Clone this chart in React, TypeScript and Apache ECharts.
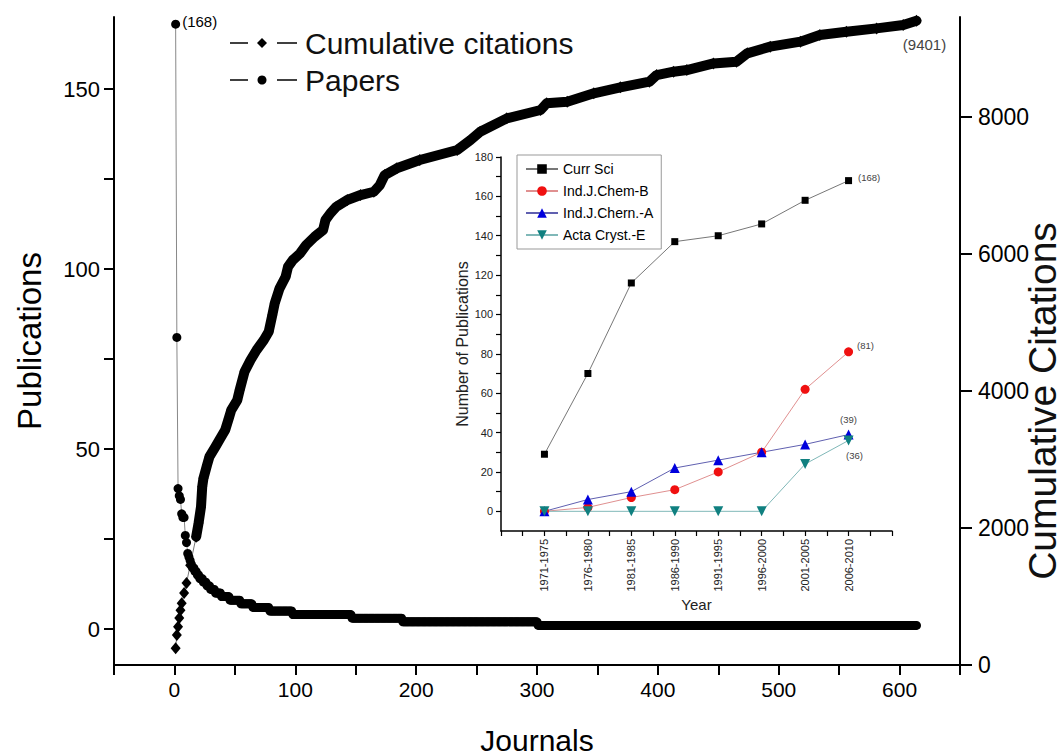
import React, { useEffect, useRef } from "react";
import * as echarts from "echarts";

// ---------- Main chart data ----------
// Papers per journal, ranked: run-length encoded (level, number of journals at that level)
const paperLevels = [168, 81, 39, 37, 36, 32, 31, 26, 24, 21, 20, 19, 18, 17, 16, 15, 14, 13, 12, 11, 10, 9, 8, 7, 6, 5, 4, 3, 2, 1];
const paperRuns = [1, 1, 1, 1, 1, 1, 2, 1, 1, 1, 1, 1, 1, 2, 2, 2, 3, 3, 3, 4, 5, 7, 9, 10, 14, 19, 49, 42, 112, 314];

// Cumulative citations (journal rank, cumulative citations)
const cumJournal = [1, 2, 3, 4, 5, 6, 8, 10, 13, 18, 20, 22, 23, 24, 27, 29, 34, 38, 42, 45, 47, 52, 54, 58, 63, 68, 74, 78, 81, 83, 87, 92, 94, 98, 104, 109, 116, 123, 125, 129, 134, 143, 154, 165, 170, 174, 184, 203, 234, 245, 253, 275, 303, 308, 325, 347, 369, 393, 399, 413, 424, 446, 465, 474, 493, 518, 534, 556, 581, 603, 614];
const cumCitations = [244, 438, 559, 684, 800, 900, 1050, 1195, 1455, 1872, 2072, 2310, 2602, 2724, 2918, 3040, 3186, 3308, 3429, 3600, 3720, 3866, 4012, 4279, 4450, 4596, 4742, 4863, 5107, 5277, 5496, 5665, 5811, 5909, 6007, 6128, 6249, 6347, 6493, 6590, 6687, 6785, 6857, 6905, 7003, 7149, 7247, 7368, 7514, 7660, 7781, 7976, 8098, 8195, 8219, 8342, 8429, 8511, 8608, 8657, 8681, 8778, 8802, 8925, 9022, 9095, 9192, 9240, 9289, 9338, 9401];

const mainXTicks = [-50, 0, 50, 100, 150, 200, 250, 300, 350, 400, 450, 500, 550, 600, 650];
const mainXLabels = [0, 100, 200, 300, 400, 500, 600];
const leftTicks = [0, 25, 50, 75, 100, 125, 150];
const leftLabels = [0, 50, 100, 150];
const rightTicks = [0, 2000, 4000, 6000, 8000];

// ---------- Inset data ----------
const periods = ["1971-1975", "1976-1980", "1981-1985", "1986-1990", "1991-1995", "1996-2000", "2001-2005", "2006-2010"];
const currSci = [29, 70, 116, 137, 140, 146, 158, 168];
const chemB = [0, 2, 7, 11, 20, 30, 62, 81];
const chemA = [0, 6, 10, 22, 26, 30, 34, 39];
const actaE = [0, 0, 0, 0, 0, 0, 24, 36];
const insetXTicks = [0, 0.5, 1, 1.5, 2, 2.5, 3, 3.5, 4, 4.5, 5, 5.5, 6, 6.5, 7, 7.5, 8, 8.5, 9];
const insetXLabels = [1, 2, 3, 4, 5, 6, 7, 8];
const insetYTicks = [0, 10, 20, 30, 40, 50, 60, 70, 80, 90, 100, 110, 120, 130, 140, 150, 160, 170, 180];
const insetYLabels = [0, 20, 40, 60, 80, 100, 120, 140, 160, 180];

const FONT = "'Liberation Sans', Arial, sans-serif";

function buildPapers() {
  const out: any[] = [];
  let j = 1;
  paperLevels.forEach((lvl, k) => {
    for (let r = 0; r < paperRuns[k]; r++) {
      out.push([j, lvl]);
      j++;
    }
  });
  return out;
}

function insetSeriesData(vals: number[], labelIdx: number | null, label?: any) {
  return vals.map((v, i) => {
    if (i === labelIdx) {
      return { value: [i + 1, v], label: { show: true, formatter: `(${v})`, ...label } };
    }
    return [i + 1, v];
  });
}

const plain = (v: number) => String(v);

export default function App() {
  const ref = useRef<HTMLDivElement>(null);
  useEffect(() => {
    document.body.style.margin = "0";
    const chart = echarts.init(ref.current!, null, { renderer: "svg" });

    const papers = buildPapers().map((d, i) =>
      i === 0
        ? { value: d, label: { show: true, formatter: `(${d[1]})`, position: "right", distance: 2, offset: [0, -3], fontSize: 15, color: "#000", fontFamily: FONT } }
        : d
    );
    const cum = cumJournal.map((j, i) => [j, cumCitations[i]]);
    const lastIdx = cum.length - 1;
    const cumLabeled = cum.map((d, i) =>
      i === lastIdx
        ? { value: d, label: { show: true, formatter: `(${d[1]})`, position: "bottom", distance: 10, offset: [8, 0], fontSize: 15, color: "#444", fontFamily: FONT } }
        : d
    );
    const dense = cum.filter((d) => d[0] >= 18);

    const axisLineMain = { onZero: false, lineStyle: { color: "#000", width: 2 } };
    const tickMain = { lineStyle: { color: "#000", width: 2 }, length: 10 };
    const insetLine = { onZero: false, lineStyle: { color: "#000", width: 1.5 } };
    const insetTick = { lineStyle: { color: "#000", width: 1.2 }, length: 5 };

    const lblSmall = { fontSize: 9.5, color: "#444", fontFamily: FONT };

    chart.setOption({
      animation: false,
      backgroundColor: "#fff",
      textStyle: { fontFamily: FONT },
      grid: [
        { left: 114, right: 104, top: 17, bottom: 90, outerBoundsMode: "none", containLabel: false },
        { left: 501, right: 172, top: 157, bottom: 224, outerBoundsMode: "none", containLabel: false },
      ],
      xAxis: [
        {
          type: "value", gridIndex: 0, min: -50, max: 650,
          axisLine: axisLineMain,
          axisTick: { ...tickMain, customValues: mainXTicks },
          axisLabel: { customValues: mainXLabels, fontSize: 21, color: "#000", margin: 14, fontFamily: FONT, formatter: plain },
          splitLine: { show: false },
          name: "Journals", nameLocation: "middle", nameGap: 60,
          nameTextStyle: { fontSize: 30, color: "#000", fontFamily: FONT },
        },
        {
          type: "value", gridIndex: 1, min: 0, max: 9,
          axisLine: insetLine,
          axisTick: { ...insetTick, customValues: insetXTicks },
          axisLabel: {
            customValues: insetXLabels, rotate: 90, fontSize: 11, color: "#222", margin: 8, fontFamily: FONT,
            formatter: (v: number) => periods[Math.round(v) - 1] ?? "",
          },
          splitLine: { show: false },
          name: "Year", nameLocation: "middle", nameGap: 66,
          nameTextStyle: { fontSize: 15, color: "#222", fontFamily: FONT },
        },
      ],
      yAxis: [
        {
          type: "value", gridIndex: 0, min: -10, max: 170, position: "left",
          axisLine: axisLineMain,
          axisTick: { ...tickMain, customValues: leftTicks },
          axisLabel: { customValues: leftLabels, fontSize: 22, color: "#000", margin: 14, fontFamily: FONT, formatter: plain },
          splitLine: { show: false },
          name: "Publications", nameLocation: "middle", nameGap: 68,
          nameTextStyle: { fontSize: 33, color: "#000", fontFamily: FONT },
        },
        {
          type: "value", gridIndex: 0, min: 0, max: 9455, position: "right",
          axisLine: axisLineMain,
          axisTick: { ...tickMain, length: 12, customValues: rightTicks },
          axisLabel: { customValues: rightTicks, fontSize: 23, color: "#000", margin: 18, fontFamily: FONT, formatter: plain },
          splitLine: { show: false },
        },
        {
          type: "value", gridIndex: 1, min: -10, max: 180,
          axisLine: insetLine,
          axisTick: { ...insetTick, customValues: insetYTicks },
          axisLabel: { customValues: insetYLabels, fontSize: 11, color: "#222", margin: 8, fontFamily: FONT, formatter: plain },
          splitLine: { show: false },
          name: "Number of Publications", nameLocation: "middle", nameGap: 30,
          nameTextStyle: { fontSize: 16, color: "#222", fontFamily: FONT },
        },
      ],
      legend: {
        left: 517, top: 155, orient: "vertical",
        padding: [7, 8, 7, 8], itemWidth: 32, itemHeight: 12, itemGap: 8,
        borderColor: "#999", borderWidth: 1,
        textStyle: { fontSize: 14, color: "#000", fontFamily: FONT },
        data: ["Curr Sci", "Ind.J.Chem-B", "Ind.J.Chern.-A", "Acta Cryst.-E"],
      },
      graphic: [
        { type: "line", shape: { x1: 230, y1: 43, x2: 248, y2: 43 }, style: { stroke: "#000", lineWidth: 1.5 } },
        { type: "polygon", shape: { points: [[262, 38], [267, 43], [262, 48], [257, 43]] }, style: { fill: "#000" } },
        { type: "line", shape: { x1: 277, y1: 43, x2: 297, y2: 43 }, style: { stroke: "#000", lineWidth: 1.5 } },
        { type: "text", x: 305, y: 43, style: { text: "Cumulative citations", fontSize: 30, fontFamily: FONT, fill: "#111", verticalAlign: "middle" } },
        { type: "line", shape: { x1: 230, y1: 80, x2: 248, y2: 80 }, style: { stroke: "#000", lineWidth: 1.5 } },
        { type: "circle", shape: { cx: 262, cy: 80, r: 4.5 }, style: { fill: "#000" } },
        { type: "line", shape: { x1: 277, y1: 80, x2: 297, y2: 80 }, style: { stroke: "#000", lineWidth: 1.5 } },
        { type: "text", x: 305, y: 80, style: { text: "Papers", fontSize: 30, fontFamily: FONT, fill: "#111", verticalAlign: "middle" } },
        {
          type: "text", x: 1042, y: 401, rotation: Math.PI / 2,
          style: { text: "Cumulative Citations", fontSize: 39, fontFamily: FONT, fill: "#111", align: "center", verticalAlign: "middle" },
        },
      ],
      series: [
        {
          name: "Cumulative citations", type: "line", xAxisIndex: 0, yAxisIndex: 1,
          data: cumLabeled, symbol: "diamond", symbolSize: [10, 12], showAllSymbol: true,
          itemStyle: { color: "#000" }, lineStyle: { color: "#777", width: 1 }, z: 3,
        },
        {
          name: "Cumulative citations (band)", type: "line", xAxisIndex: 0, yAxisIndex: 1,
          data: dense, showSymbol: false, symbol: "none",
          lineStyle: { color: "#000", width: 10, cap: "round", join: "round" }, z: 4,
          silent: true,
        },
        {
          name: "Papers", type: "line", xAxisIndex: 0, yAxisIndex: 0,
          data: papers, symbol: "circle", symbolSize: 9, showAllSymbol: true,
          itemStyle: { color: "#000" }, lineStyle: { color: "#888", width: 1 }, z: 3,
        },
        {
          name: "Curr Sci", type: "line", xAxisIndex: 1, yAxisIndex: 2,
          data: insetSeriesData(currSci, 7, { position: "right", distance: 6, offset: [0, -3], ...lblSmall }),
          symbol: "rect", symbolSize: 7, itemStyle: { color: "#000" }, lineStyle: { color: "#777", width: 1 },
        },
        {
          name: "Ind.J.Chem-B", type: "line", xAxisIndex: 1, yAxisIndex: 2,
          data: insetSeriesData(chemB, 7, { position: "right", distance: 4, offset: [0, -6], ...lblSmall }),
          symbol: "circle", symbolSize: 9, itemStyle: { color: "#f01010" }, lineStyle: { color: "#e09090", width: 1 },
        },
        {
          name: "Ind.J.Chern.-A", type: "line", xAxisIndex: 1, yAxisIndex: 2,
          data: insetSeriesData(chemA, 7, { position: "top", distance: 5, ...lblSmall }),
          symbol: "triangle", symbolSize: 10, itemStyle: { color: "#0000dd" }, lineStyle: { color: "#6060b0", width: 1 },
        },
        {
          name: "Acta Cryst.-E", type: "line", xAxisIndex: 1, yAxisIndex: 2,
          data: insetSeriesData(actaE, 7, { position: "bottom", distance: 5, offset: [6, 0], ...lblSmall }),
          symbol: "triangle", symbolRotate: 180, symbolSize: 10, itemStyle: { color: "#108080" }, lineStyle: { color: "#80b8b8", width: 1 },
        },
      ],
    });
    return () => chart.dispose();
  }, []);
  return <div ref={ref} style={{ width: 1064, height: 755, background: "#fff" }} />;
}
